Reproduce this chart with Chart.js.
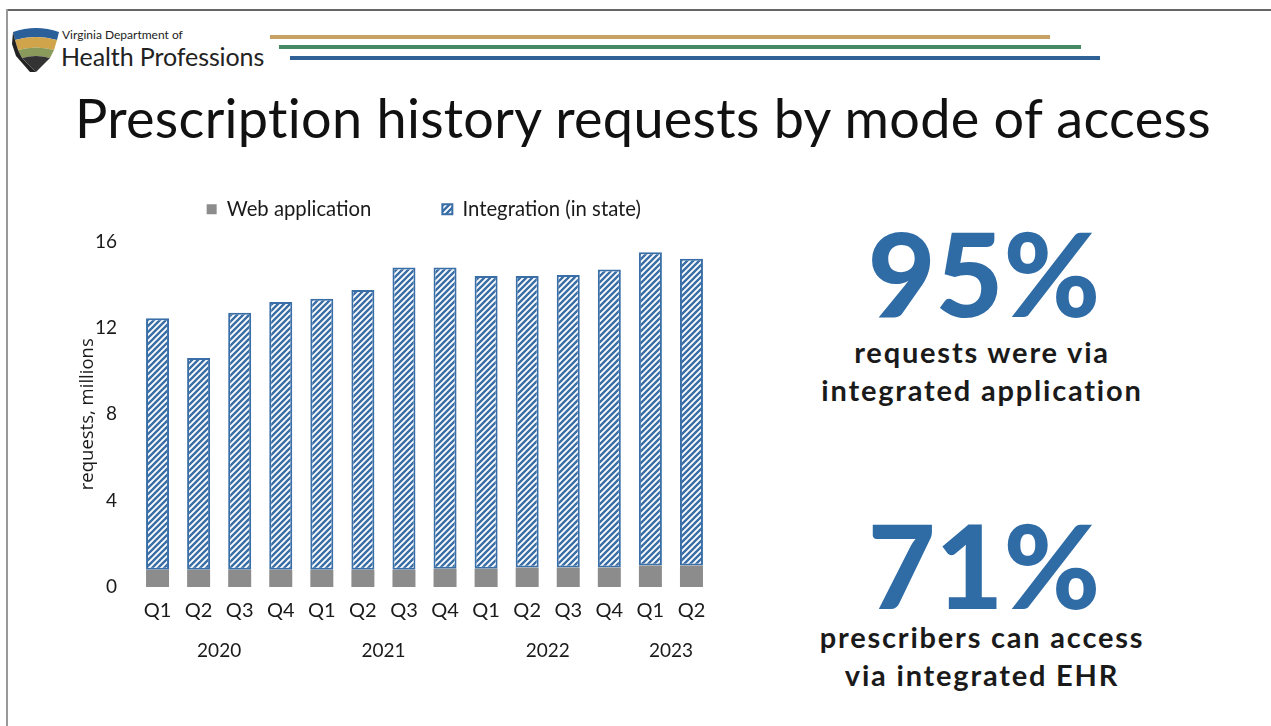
<!DOCTYPE html>
<html>
<head>
<meta charset="utf-8">
<script src="https://cdn.jsdelivr.net/npm/chart.js@4.4.1/dist/chart.umd.min.js"></script>
<style>
  html, body { margin: 0; padding: 0; background: #fff; }
  body { width: 1271px; height: 726px; position: relative; overflow: hidden; font-family: Lato, "DejaVu Sans", sans-serif; }
  .frame-top { position: absolute; left: 8px; top: 9px; width: 1263px; height: 2px; background: #666; }
  .frame-left { position: absolute; left: 6px; top: 9px; width: 2px; height: 717px; background: #999; }
  .rule { position: absolute; height: 4px; }
  .dept-small { position: absolute; left: 62px; top: 27px; font-size: 12px; color: #222; }
  .dept-big { position: absolute; left: 61px; top: 41px; font-size: 25px; color: #222; letter-spacing: -0.1px; }
  .title { position: absolute; left: 75px; top: 85px; font-size: 54px; color: #111; white-space: nowrap; letter-spacing: 0.3px; }
  .big { position: absolute; width: 340px; left: 814px; text-align: center; font-weight: 900; color: #2f6ca6; font-size: 117px; line-height: 1; }
  .sub { position: absolute; width: 420px; left: 772px; text-align: center; font-weight: 700; color: #1a1a1a; font-size: 29px; line-height: 38px; letter-spacing: 1.8px; }
  #wrap { position: absolute; left: 40px; top: 128px; width: 788px; height: 552px; }
</style>
</head>
<body>
<div class="frame-top"></div>
<div class="frame-left"></div>

<svg style="position:absolute;left:10px;top:26px" width="52" height="48" viewBox="0 0 52 48">
  <path d="M3 6 Q26 -2 49 6 L47 14 Q26 8 5 14 Z" fill="#2a5f9a"/>
  <path d="M5 14 Q26 8 47 14 L44 24 Q26 19 8 24 Z" fill="#d0a44a"/>
  <path d="M8 24 Q26 19 44 24 L40 32 Q26 28 12 32 Z" fill="#8a9a5a"/>
  <path d="M12 32 Q26 28 40 32 L26 46 Z" fill="#333"/>
  <path d="M3 6 L5 14 L8 24 L12 32 L26 46 L20 46 L6 30 L2 18 Z" fill="#222"/>
</svg>
<div class="dept-small">Virginia Department of</div>
<div class="dept-big">Health Professions</div>

<div class="rule" style="left:270px;top:35px;width:780px;background:#c7a265"></div>
<div class="rule" style="left:279px;top:45px;width:802px;background:#458a62"></div>
<div class="rule" style="left:290px;top:56px;width:810px;background:#2f6196"></div>

<div class="title">Prescription history requests by mode of access</div>

<div class="big" style="top:214px">95%</div>
<div class="sub" style="top:333px">requests were via<br>integrated application</div>
<div class="big" style="top:506px">71%</div>
<div class="sub" style="top:618px">prescribers can access<br>via integrated EHR</div>

<div id="wrap"><canvas id="c"></canvas></div>

<script>
// Quarterly prescription history requests, millions
const quarters = ['Q1','Q2','Q3','Q4','Q1','Q2','Q3','Q4','Q1','Q2','Q3','Q4','Q1','Q2'];
const years = ['2020','2021','2022','2023'];
const quartersPerYear = [4, 4, 4, 2];
const webApplication = [0.8, 0.8, 0.8, 0.8, 0.8, 0.8, 0.8, 0.85, 0.85, 0.9, 0.9, 0.9, 1.0, 1.0];
const integration = [11.65, 9.8, 11.9, 12.4, 12.55, 12.95, 14.0, 13.95, 13.55, 13.5, 13.55, 13.8, 14.5, 14.2];
const yTicks = [0, 4, 8, 12, 16];

const BLUE = '#3a6ea6';
const GREY = '#8c8c8c';

// Diagonal hatch fill for the integration series
function makeHatch() {
  const s = 6;
  const p = document.createElement('canvas');
  p.width = s; p.height = s;
  const g = p.getContext('2d');
  g.fillStyle = '#ffffff';
  g.fillRect(0, 0, s, s);
  g.strokeStyle = BLUE;
  g.lineWidth = 2.4;
  g.beginPath();
  g.moveTo(-1, s + 1); g.lineTo(s + 1, -1);
  g.moveTo(-2, 2); g.lineTo(2, -2);
  g.moveTo(s - 2, s + 2); g.lineTo(s + 2, s - 2);
  g.stroke();
  return g.createPattern(p, 'repeat');
}

// Year captions centred under each group of quarters
const yearLabels = {
  id: 'yearLabels',
  afterDraw(chart) {
    const x = chart.scales.x;
    const ctx = chart.ctx;
    ctx.save();
    ctx.font = '19px Lato, sans-serif';
    ctx.fillStyle = '#1a1a1a';
    ctx.textAlign = 'center';
    ctx.textBaseline = 'middle';
    let start = 0;
    years.forEach((yr, i) => {
      const n = quartersPerYear[i];
      const mid = (x.getPixelForValue(start) + x.getPixelForValue(start + n - 1)) / 2;
      ctx.fillText(yr, mid, x.bottom + 16);
      start += n;
    });
    ctx.restore();
  }
};

new Chart(document.getElementById('c'), {
  type: 'bar',
  data: {
    labels: quarters,
    datasets: [
      {
        label: 'Web application',
        data: webApplication,
        backgroundColor: GREY,
        borderWidth: 0,
        categoryPercentage: 1,
        barPercentage: 0.56
      },
      {
        label: 'Integration (in state)',
        data: integration,
        backgroundColor: makeHatch(),
        borderColor: BLUE,
        borderWidth: 2,
        borderSkipped: false,
        categoryPercentage: 1,
        barPercentage: 0.56
      }
    ]
  },
  options: {
    responsive: true,
    maintainAspectRatio: false,
    animation: false,
    layout: { padding: { left: 0, right: 116, top: 0, bottom: 45 } },
    plugins: {
      legend: {
        position: 'top',
        align: 'end',
        labels: {
          font: { family: 'Lato, sans-serif', size: 20.3 },
          color: '#1a1a1a',
          boxWidth: 10,
          boxHeight: 10,
          padding: 71
        }
      },
      // empty spacer between the legend and the plot
      subtitle: {
        display: true,
        text: '',
        weight: 500,
        font: { size: 1 },
        padding: { top: 5.5, bottom: 5.5 }
      },
      tooltip: { enabled: false }
    },
    scales: {
      x: {
        stacked: true,
        grid: { display: false, drawTicks: false },
        border: { display: false },
        ticks: { font: { family: 'Lato, sans-serif', size: 20 }, color: '#1a1a1a', padding: 12, maxRotation: 0, autoSkip: false }
      },
      y: {
        stacked: true,
        min: 0,
        max: 16,
        afterBuildTicks(scale) { scale.ticks = yTicks.map(v => ({ value: v })); },
        afterFit(scale) { scale.width = 97; },
        grid: { display: false, drawTicks: false },
        border: { display: false },
        ticks: { font: { family: 'Lato, sans-serif', size: 19 }, color: '#1a1a1a', padding: 20 },
        title: {
          display: true,
          text: 'requests, millions',
          font: { family: '"Open Sans", sans-serif', size: 18.5 },
          color: '#1a1a1a',
          padding: { top: 37, bottom: 0 }
        }
      }
    }
  },
  plugins: [yearLabels]
});
</script>
</body>
</html>
